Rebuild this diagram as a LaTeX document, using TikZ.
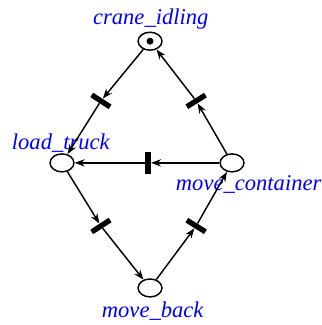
\documentclass[tikz,border=0pt]{standalone}
\usepackage{fontspec}
\setmainfont{Liberation Serif}
\usetikzlibrary{arrows.meta, shapes.geometric}

\tikzset{
    place/.style = {draw, ellipse, line width = 1.1pt, minimum width = 18pt, minimum height = 13.5pt, inner sep = 0pt},
    trans/.style = {fill, rectangle, minimum width = 16.5pt, minimum height = 4pt, inner sep = 0pt},
    arc/.style = {line width = 1.1pt, -{Stealth[length = 7.5pt, width = 5.5pt]}},
    lbl/.style = {text = blue, font = \fontsize{17}{20}\selectfont\itshape}
}

\begin{document}
\begin{tikzpicture}
        \useasboundingbox (0, 0) rectangle (8.52, 8.60);

        % places
        \node[place] (crane) at (3.97, 7.51) {};
        \fill (crane) circle (2.6pt);
        \node[place] (load) at (1.64, 4.29) {};
        \node[place] (cont) at (6.14, 4.29) {};
        \node[place] (back) at (3.97, 0.98) {};

        % transitions
        \node[trans, rotate = -33] (t1) at (2.67, 5.93) {};
        \node[trans, rotate = 32] (t2) at (5.19, 5.93) {};
        \node[trans, rotate = 90] (tm) at (3.92, 4.29) {};
        \node[trans, rotate = 33] (t3) at (2.67, 2.62) {};
        \node[trans, rotate = -32] (t4) at (5.19, 2.62) {};

        % labels
        \node[lbl] (lcrane) at (3.99, 8.10) {crane\_idling};
        \node[lbl] (lload) at (1.61, 4.82) {load\_truck};
        \node[lbl] (lcont) at (6.58, 3.72) {move\_container};
        \node[lbl] (lback) at (4.04, 0.37) {move\_back};

        % arcs
        \draw[arc] (crane) -- (t1);
        \draw[arc] (t1) -- (load);
        \draw[arc] (load) -- (t3);
        \draw[arc] (t3) -- (back);
        \draw[arc] (back) -- (t4);
        \draw[arc] (t4) -- (cont);
        \draw[arc] (cont) -- (t2);
        \draw[arc] (t2) -- (crane);
        \draw[arc] (cont) -- (tm);
        \draw[arc] (tm) -- (load);

    \end{tikzpicture}
\end{document}
